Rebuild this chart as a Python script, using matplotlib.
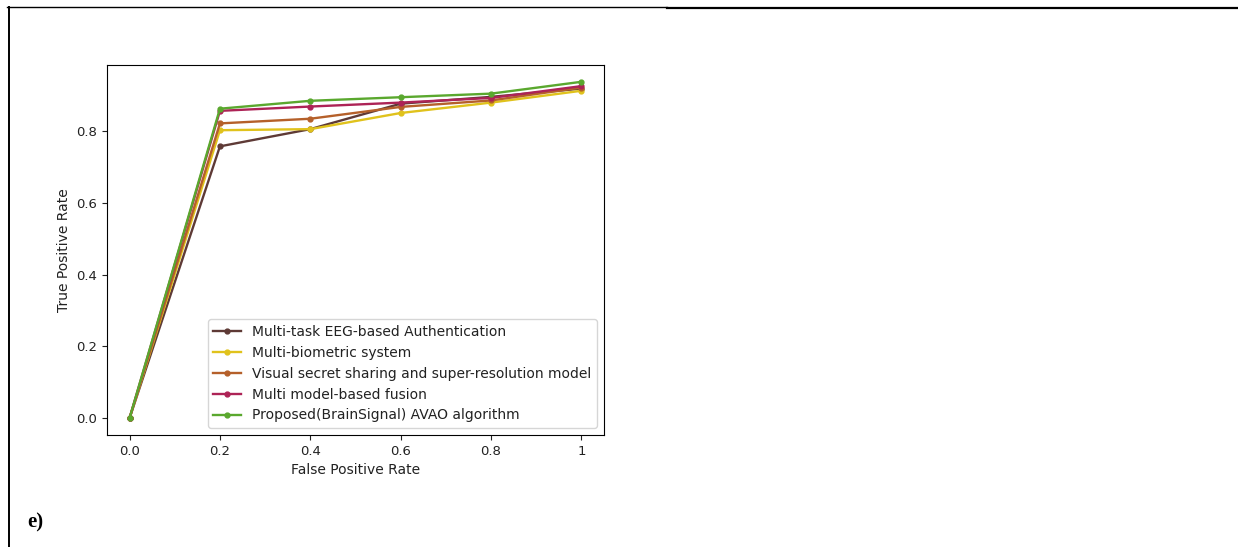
import matplotlib
matplotlib.use("Agg")
import matplotlib.pyplot as plt
from matplotlib.lines import Line2D

fpr = [0.0, 0.2, 0.4, 0.6, 0.8, 1.0]
x_tick_labels = ["0.0", "0.2", "0.4", "0.6", "0.8", "1"]

series_names = [
    "Multi-task EEG-based Authentication",
    "Multi-biometric system",
    "Visual secret sharing and super-resolution model",
    "Multi model-based fusion",
    "Proposed(BrainSignal) AVAO algorithm",
]
tpr_multitask = [0.0, 0.758, 0.806, 0.877, 0.896, 0.919]
tpr_multibiometric = [0.0, 0.803, 0.806, 0.851, 0.880, 0.913]
tpr_visual = [0.0, 0.822, 0.835, 0.868, 0.886, 0.922]
tpr_fusion = [0.0, 0.857, 0.869, 0.880, 0.893, 0.926]
tpr_proposed = [0.0, 0.863, 0.885, 0.895, 0.905, 0.938]
series_colors = ["#5e3a36", "#e0c21c", "#b5602a", "#ad2356", "#5aa82e"]

fig = plt.figure(figsize=(12.38, 5.47), dpi=100)
ax = fig.add_axes([0.0864, 0.2048, 0.4015, 0.6764])

all_series = [tpr_multitask, tpr_multibiometric, tpr_visual, tpr_fusion, tpr_proposed]
for name, vals, col in zip(series_names, all_series, series_colors):
    ax.plot(fpr, vals, color=col, lw=1.7, marker="o", markersize=3.5, label=name)

ax.set_xticks(fpr)
ax.set_xticklabels(x_tick_labels)
ax.set_yticks([0.0, 0.2, 0.4, 0.6, 0.8])
ax.tick_params(labelsize=9.5, colors="#222222", labelcolor="#222222")
ax.set_xlabel("False Positive Rate", fontsize=10, color="#222222")
ax.set_ylabel("True Positive Rate", fontsize=10, color="#222222")
leg = ax.legend(loc="lower right", fontsize=10, handlelength=2.0, borderpad=0.4,
                labelspacing=0.5)
for t in leg.get_texts():
    t.set_color("#222222")

# document-style frame lines
fig.add_artist(Line2D([7/1238, 667/1238], [1 - 7/547, 1 - 7/547],
                      transform=fig.transFigure, color="black", lw=1.0))
fig.add_artist(Line2D([667/1238, 1.0], [1 - 7.5/547, 1 - 7.5/547],
                      transform=fig.transFigure, color="black", lw=1.6))
fig.add_artist(Line2D([8.5/1238, 8.5/1238], [0.0, 1 - 6.5/547],
                      transform=fig.transFigure, color="black", lw=1.4))
fig.text(27/1238, 1 - 522/547, "e)", fontsize=15, fontweight="bold",
         family="Liberation Serif", va="center", ha="left")

fig.savefig("out.png", dpi=100)
